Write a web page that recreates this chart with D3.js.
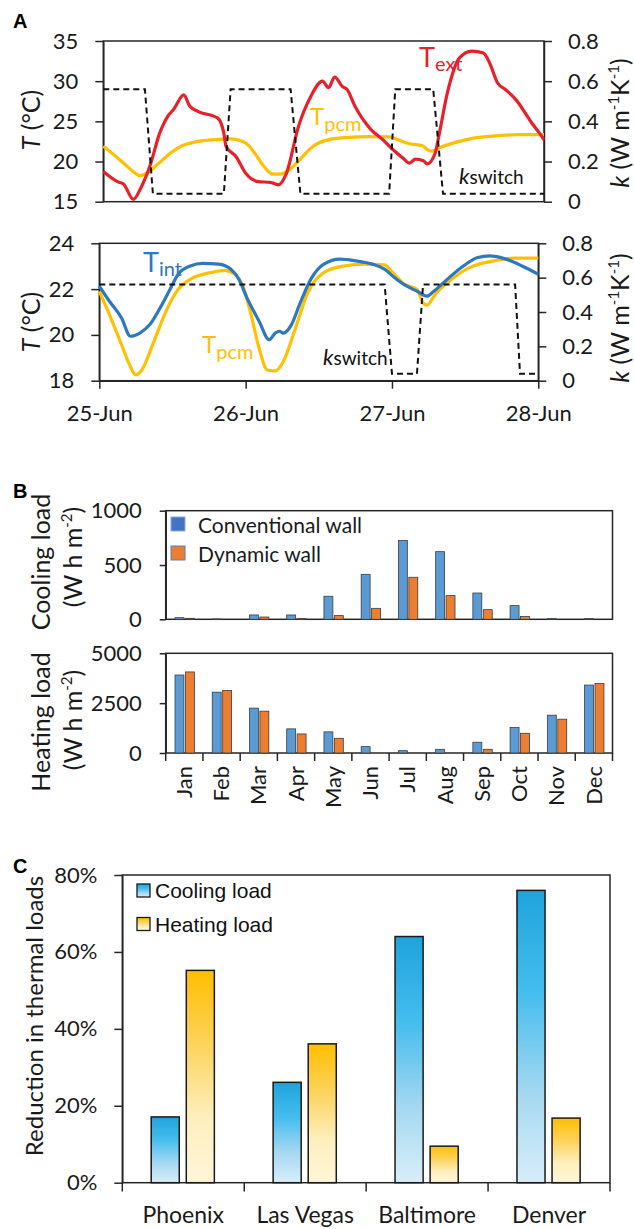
<!DOCTYPE html>
<html>
<head>
<meta charset="utf-8">
<script src="https://cdn.jsdelivr.net/npm/d3@7"></script>
<style>
  body { margin: 0; background: #fff; }
  svg { display: block; font-family: Lato, "Open Sans", sans-serif; }
  .axis path, .axis line { stroke: #262626; stroke-width: 1.5; }
  .axis text { font-family: Lato, sans-serif; font-size: 22px; fill: #1a1a1a; }
  .box { fill: none; stroke: #262626; stroke-width: 1.5; }
</style>
</head>
<body>
<div id="chart"></div>
<script>
// ---------- panel A : temperatures over 3 days (hours from 25-Jun 0:00) ----------
var days = ["25-Jun", "26-Jun", "27-Jun", "28-Jun"];
var dayHours = [0, 24, 48, 72];

var tExt = [[0,18.75],[2.3,17.5],[3.3,17.2],[4.9,15.3],[6.25,16.9],[7.6,19.4],[9.2,23.5],[10.5,25.6],
  [11.5,26.5],[13.15,28.3],[14.1,26.9],[15.45,26.25],[18.7,25.4],[19.7,23.5],[20.05,21.9],[21.7,20.6],
  [23.3,18.5],[25.3,17.5],[27.3,17.4],[28.6,17.1],[29.9,18.5],[31.9,24.4],[33.9,28.1],[35.8,30],
  [36.8,29.2],[37.8,30.5],[39.1,29.3],[39.8,29],[41.1,26.9],[43.7,24],[45.7,22.7],[47.3,21.5],
  [49,20.4],[50,19.8],[51,20.3],[52.3,20.1],[52.9,19.7],[54.2,21],[54.9,23.5],[56.2,28.5],[58.2,32.9],
  [60.2,33.75],[62.1,33.5],[63.1,32.3],[64.4,29.8],[65.8,28.9],[67.4,27.7],[70,24.8],[71.3,23.5],[72,22.7]];

var tPcm = [[0,21.9],[1.66,20.89],[3.65,19.57],[4.98,18.69],[5.97,18.25],[6.97,18.47],[8.96,19.72],
  [10.95,21.04],[12.94,21.99],[14.93,22.43],[18.25,22.72],[20.57,22.82],[22.23,22.65],[23.56,22.13],
  [24.88,20.89],[26.21,19.42],[27.54,18.47],[28.87,18.43],[30.19,18.84],[32.18,20.3],[34.17,21.84],
  [36.83,22.72],[40.15,23.01],[43.47,23.09],[46.78,23.06],[48.11,22.72],[50.1,22.21],[52.09,21.99],
  [53.09,21.4],[53.75,21.3],[55.08,21.77],[57.4,22.35],[60.72,22.94],[64.7,23.23],[68.02,23.35],[72,23.35]];

var tInt = [[0,22.13],[1.66,21.47],[3.65,20.74],[5.1,19.94],[6.64,20.08],[8.29,20.45],[10.29,21.33],
  [11.61,21.99],[12.94,22.65],[14.93,23.01],[16.92,23.12],[19.58,23.09],[21.57,22.87],[22.89,22.43],
  [24.22,21.62],[26.21,20.6],[27.87,19.79],[28.87,20.08],[29.53,20.16],[30.19,20.08],[31.52,20.45],
  [32.85,21.33],[34.84,22.5],[36.83,23.09],[39.48,23.31],[42.14,23.23],[44.79,23.09],[46.78,22.87],
  [48.44,22.5],[50.1,22.18],[52.09,21.91],[53.75,21.69],[54.75,21.88],[56.74,22.35],[59.39,22.94],
  [62.05,23.38],[64.04,23.45],[66.69,23.31],[69.34,23.01],[72,22.65]];

var kTop = [[0,0.56],[6.8,0.56],[8.1,0.04],[19.7,0.04],[20.8,0.56],[30.6,0.56],[32.2,0.04],
  [46.7,0.04],[47.7,0.56],[53.9,0.56],[55.5,0.04],[72,0.04]];
var kBottom = [[0,0.56],[46.8,0.56],[48,0.04],[52.1,0.04],[53.1,0.56],[68.2,0.56],[69,0.04],[72,0.04]];

// ---------- panel B : monthly loads ----------
var months = ["Jan","Feb","Mar","Apr","May","Jun","Jul","Aug","Sep","Oct","Nov","Dec"];
var coolConv = [15, 3, 40, 40, 212, 414, 727, 623, 242, 126, 6, 6];
var coolDyn = [9, 0, 21, 6, 34, 101, 387, 218, 89, 25, 0, 0];
var heatConv = [3910, 3050, 2250, 1210, 1060, 320, 117, 185, 540, 1275, 1896, 3406];
var heatDyn = [4065, 3135, 2097, 956, 738, 0, 0, 0, 185, 990, 1695, 3490];

// ---------- panel C : reduction per city ----------
var cities = ["Phoenix", "Las Vegas", "Baltimore", "Denver"];
var coolReduction = [17.1, 26.1, 64.0, 76.0];
var heatReduction = [55.2, 36.1, 9.5, 16.8];

var RED = "#e8202a", YEL = "#ffc000", BLUE = "#2e78bf";
var plain = function(d) { return String(d); };

var svg = d3.select("#chart").append("svg")
  .attr("width", 634).attr("height", 1229);

var defs = svg.append("defs");
function gradient(id, stops) {
  var g = defs.append("linearGradient").attr("id", id)
    .attr("x1", 0).attr("y1", 0).attr("x2", 0).attr("y2", 1);
  stops.forEach(function(s) {
    g.append("stop").attr("offset", s[0]).attr("stop-color", s[1]);
  });
}
gradient("gcool", [[0,"#1fa3dc"],[0.35,"#45bdee"],[0.7,"#a6d8f1"],[1,"#d8eef9"]]);
gradient("gheat", [[0,"#ffbe00"],[0.35,"#fcd35c"],[0.7,"#fdefbf"],[1,"#fff6d8"]]);

function panelLetter(txt, x, y) {
  svg.append("text").attr("x", x).attr("y", y)
    .attr("font-family", "'Liberation Sans', Arial, sans-serif")
    .attr("font-weight", "bold").attr("font-size", 20).text(txt);
}

// rotated axis title, tspans given as [text, style]
function rotTitle(cx, cy, parts, size) {
  var t = svg.append("text")
    .attr("transform", "translate(" + cx + "," + cy + ") rotate(-90)")
    .attr("text-anchor", "middle").attr("font-size", size).attr("fill", "#1a1a1a");
  parts.forEach(function(p) {
    var s = t.append("tspan").text(p[0]);
    if (p[1] === "i") s.attr("font-style", "italic");
    if (p[1] === "sup") s.attr("font-size", size * 0.6).attr("dy", -size * 0.38);
    if (p[1] === "back") s.attr("dy", size * 0.38);
  });
  return t;
}

function kTitle(cx, cy) {
  rotTitle(cx, cy, [["k","i"],[" (W m"],["-1","sup"],["K","back"],["-1","sup"],[")","back"]], 25)
    .attr("dy", "0.3em");
}
function tTitle(cx, cy) {
  rotTitle(cx, cy, [["T","i"],[" (°C)"]], 25).attr("dy", "0.3em");
}

function curveLabel(x, y, main, sub, color, size, subSize, subDy, italic) {
  var t = svg.append("text").attr("x", x).attr("y", y).attr("fill", color);
  var m = t.append("tspan").attr("font-size", size).text(main);
  if (italic) m.attr("font-style", "italic");
  t.append("tspan").attr("font-size", subSize).attr("dy", subDy).text(sub);
}

function tempPanel(opt) {
  var x = d3.scaleLinear().domain([0, 72]).range(opt.xr);
  var yT = d3.scaleLinear().domain(opt.tDomain).range(opt.yr);
  var yK = d3.scaleLinear().domain([0, 0.8]).range(opt.yr);
  var g = svg.append("g");

  g.append("rect").attr("class", "box")
    .attr("x", opt.xr[0]).attr("y", opt.yr[1])
    .attr("width", opt.xr[1] - opt.xr[0]).attr("height", opt.yr[0] - opt.yr[1]);

  g.append("g").attr("class", "axis")
    .attr("transform", "translate(" + opt.xr[0] + ",0)")
    .call(d3.axisLeft(yT).tickValues(opt.tTicks).tickFormat(plain)
      .tickSize(8).tickSizeOuter(0).tickPadding(17));
  g.append("g").attr("class", "axis")
    .attr("transform", "translate(" + opt.xr[1] + ",0)")
    .call(d3.axisRight(yK).tickValues([0, 0.2, 0.4, 0.6, 0.8])
      .tickFormat(function(d) { return d === 0 ? "0" : d3.format(".1f")(d); })
      .tickSize(8).tickSizeOuter(0).tickPadding(16));

  if (opt.dates) {
    g.append("g").attr("class", "axis")
      .attr("transform", "translate(0," + opt.yr[0] + ")")
      .call(d3.axisBottom(x).tickValues(dayHours)
        .tickFormat(function(d, i) { return days[i]; })
        .tickSize(8).tickSizeOuter(0).tickPadding(17));
  }

  var line = d3.line().x(function(d) { return x(d[0]); }).curve(d3.curveMonotoneX);
  opt.series.forEach(function(s) {
    g.append("path").datum(s.data)
      .attr("fill", "none").attr("stroke", s.color).attr("stroke-width", 3.2)
      .attr("stroke-linejoin", "round")
      .attr("d", line.y(function(d) { return yT(d[1]); }));
  });
  g.append("path").datum(opt.k)
    .attr("fill", "none").attr("stroke", "#111").attr("stroke-width", 2)
    .attr("stroke-dasharray", "6,4")
    .attr("d", d3.line().x(function(d) { return x(d[0]); }).y(function(d) { return yK(d[1]); }));
}

// ---------- A ----------
panelLetter("A", 13, 28);
tempPanel({ xr: [103.3, 544], yr: [201.7, 41], tDomain: [15, 35], tTicks: [15, 20, 25, 30, 35],
  series: [{data: tPcm, color: YEL}, {data: tExt, color: RED}], k: kTop, dates: false });
tempPanel({ xr: [99.3, 538.3], yr: [380.7, 243.3], tDomain: [18, 24], tTicks: [18, 20, 22, 24],
  series: [{data: tPcm, color: YEL}, {data: tInt, color: BLUE}], k: kBottom, dates: true });

tTitle(32, 120);
tTitle(32, 322);
kTitle(621, 123);
kTitle(621, 318);

curveLabel(419, 67, "T", "ext", RED, 27, 20, 4, false);
curveLabel(310, 125, "T", "pcm", YEL, 24, 20, 6, false);
curveLabel(459, 184, "k", "switch", "#111", 22, 19, 0, true);
curveLabel(143, 272, "T", "int", BLUE, 27, 20, 4, false);
curveLabel(202, 353, "T", "pcm", YEL, 24, 20, 6, false);
curveLabel(323, 365, "k", "switch", "#111", 22, 19, 0, true);

// ---------- B ----------
panelLetter("B", 13, 498);
var xMonth = d3.scaleBand().domain(months).range([165.7, 612.5]);
var bw = xMonth.bandwidth();
var xWall = d3.scaleBand().domain(["conv", "dyn"]).range([0.25 * bw, 0.77 * bw]).paddingInner(0.143);
var wallColor = { conv: "#5b9bd5", dyn: "#ed7d31" };

function loadPanel(yScale, ticks, conv, dyn, top, bottom) {
  var g = svg.append("g");
  g.append("rect").attr("class", "box")
    .attr("x", 165.7).attr("y", top).attr("width", 612.5 - 165.7).attr("height", bottom - top);
  g.append("g").attr("class", "axis").attr("transform", "translate(165.7,0)")
    .call(d3.axisLeft(yScale).tickValues(ticks).tickFormat(plain)
      .tickSize(6).tickSizeOuter(0).tickPadding(18));
  var rows = months.map(function(m, i) { return { m: m, conv: conv[i], dyn: dyn[i] }; });
  rows.forEach(function(r) {
    ["conv", "dyn"].forEach(function(k) {
      if (r[k] <= 0) return;
      g.append("rect")
        .attr("x", xMonth(r.m) + xWall(k)).attr("width", xWall.bandwidth())
        .attr("y", yScale(r[k])).attr("height", yScale(0) - yScale(r[k]))
        .attr("fill", wallColor[k]).attr("stroke", "#3c3c3c").attr("stroke-width", 0.8);
    });
  });
  return g;
}

loadPanel(d3.scaleLinear().domain([0, 1000]).range([619.3, 510.7]), [0, 500, 1000],
  coolConv, coolDyn, 510.7, 619.3);
var heat = loadPanel(d3.scaleLinear().domain([0, 5000]).range([753, 653.3]), [0, 2500, 5000],
  heatConv, heatDyn, 653.3, 753);

// month boundary ticks and rotated labels
d3.range(months.length + 1).forEach(function(i) {
  var xx = 165.7 + i * xMonth.step();
  heat.append("line").attr("x1", xx).attr("x2", xx).attr("y1", 753).attr("y2", 761)
    .attr("stroke", "#262626").attr("stroke-width", 1.5);
});
months.forEach(function(m) {
  heat.append("text")
    .attr("transform", "translate(" + (xMonth(m) + bw / 2) + ",766) rotate(-90)")
    .attr("text-anchor", "end").attr("dy", "0.35em")
    .attr("font-size", 22).attr("fill", "#1a1a1a").text(m);
});

// legend
var legB = [["Conventional wall", "#4472c4", "#8eaadb"], ["Dynamic wall", "#ed7d31", "#5b7fc4"]];
legB.forEach(function(d, i) {
  svg.append("rect").attr("x", 171).attr("y", 517 + i * 29).attr("width", 14).attr("height", 14)
    .attr("fill", d[1]).attr("stroke", d[2]).attr("stroke-width", 1);
  svg.append("text").attr("x", 198).attr("y", 533 + i * 28.5)
    .attr("font-size", 21).attr("fill", "#1a1a1a").text(d[0]);
});

rotTitle(42, 562, [["Cooling load"]], 25).attr("dy", "0.3em");
rotTitle(74, 557, [["(W h m"], ["-2", "sup"], [")", "back"]], 25).attr("dy", "0.3em");
rotTitle(42, 722, [["Heating load"]], 25).attr("dy", "0.3em");
rotTitle(74, 720, [["(W h m"], ["-2", "sup"], [")", "back"]], 25).attr("dy", "0.3em");

// ---------- C ----------
panelLetter("C", 13, 873);
var xCity = d3.scaleBand().domain(cities).range([122.3, 610]);
var cw = xCity.bandwidth();
var xLoad = d3.scaleBand().domain(["cool", "heat"]).range([0.237 * cw, 0.755 * cw]).paddingInner(0.2);
var yRed = d3.scaleLinear().domain([0, 80]).range([1182.7, 875]);

var gc = svg.append("g");
gc.append("rect").attr("class", "box")
  .attr("x", 122.3).attr("y", 875).attr("width", 610 - 122.3).attr("height", 1182.7 - 875);
gc.append("g").attr("class", "axis").attr("transform", "translate(122.3,0)")
  .call(d3.axisLeft(yRed).tickValues([0, 20, 40, 60, 80])
    .tickFormat(function(d) { return d + "%"; })
    .tickSize(8).tickSizeOuter(0).tickPadding(17));
d3.range(cities.length + 1).forEach(function(i) {
  var xx = 122.3 + i * xCity.step();
  gc.append("line").attr("x1", xx).attr("x2", xx).attr("y1", 1182.7).attr("y2", 1191.5)
    .attr("stroke", "#262626").attr("stroke-width", 1.5);
});
cities.forEach(function(c, i) {
  [["cool", coolReduction[i], "url(#gcool)"], ["heat", heatReduction[i], "url(#gheat)"]].forEach(function(b) {
    gc.append("rect")
      .attr("x", xCity(c) + xLoad(b[0])).attr("width", xLoad.bandwidth())
      .attr("y", yRed(b[1])).attr("height", yRed(0) - yRed(b[1]))
      .attr("fill", b[2]).attr("stroke", "#1a1a1a").attr("stroke-width", 1.5);
  });
  gc.append("text").attr("x", xCity(c) + cw / 2).attr("y", 1223)
    .attr("text-anchor", "middle").attr("font-size", 23).attr("fill", "#1a1a1a").text(c);
});

[["Cooling load", "url(#gcool)"], ["Heating load", "url(#gheat)"]].forEach(function(d, i) {
  gc.append("rect").attr("x", 137).attr("y", 884 + i * 33.5).attr("width", 13).attr("height", 13)
    .attr("fill", d[1]).attr("stroke", "#1a1a1a").attr("stroke-width", 1.3);
  gc.append("text").attr("x", 155).attr("y", 897.5 + i * 34)
    .attr("font-family", "'Liberation Sans', Arial, sans-serif")
    .attr("font-size", 21).attr("fill", "#111").text(d[0]);
});

rotTitle(34, 1016, [["Reduction in thermal loads"]], 24).attr("dy", "0.36em");
</script>
</body>
</html>
